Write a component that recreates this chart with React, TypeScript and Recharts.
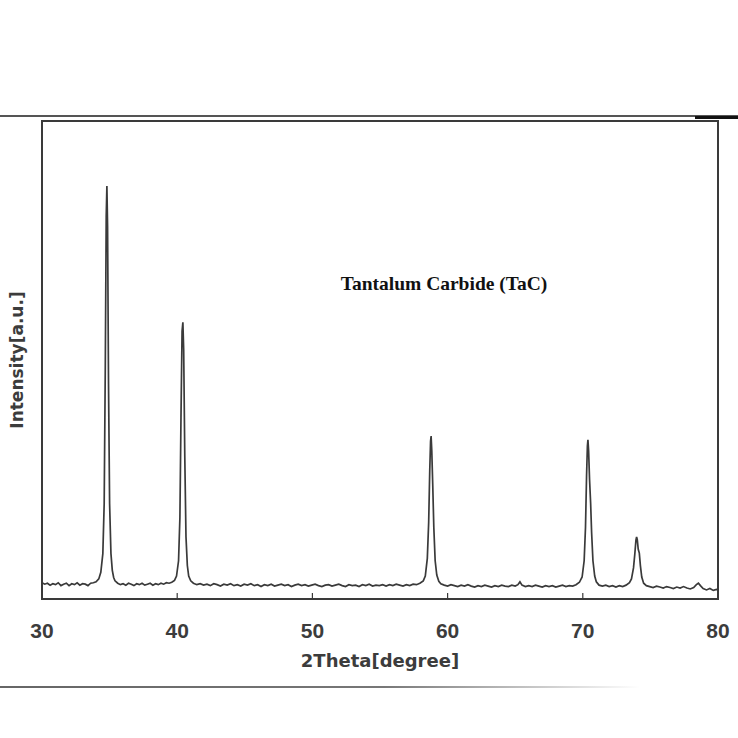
import React from "react"
import { LineChart, Line, XAxis, YAxis, ReferenceArea } from "recharts"

// 2θ (degree), intensity (a.u., 0-100 of the frame height)
const background1: [number, number][] = [
  [30.0, 3.4], [30.2, 3.1], [30.4, 3.3], [30.6, 2.9], [30.8, 3.2], [31.0, 3.0], [31.2, 3.4], [31.4, 2.8],
  [31.6, 3.1], [31.8, 3.3], [32.0, 2.8], [32.2, 3.2], [32.4, 3.0], [32.6, 3.4], [32.8, 2.9], [33.0, 3.2],
  [33.2, 3.1], [33.4, 2.8], [33.6, 3.3], [33.8, 3.4], [34.0, 3.6], [34.2, 4.2],
]
const peak111: [number, number][] = [
  [34.35, 5.6], [34.5, 9.5], [34.6, 20], [34.68, 48], [34.75, 80], [34.8, 86.4], [34.85, 78],
  [34.92, 45], [35.0, 20], [35.1, 9.5], [35.2, 6], [35.3, 4.5], [35.4, 3.8],
]
const background2: [number, number][] = [
  [35.6, 3.3], [35.8, 3.0], [36.0, 3.2], [36.2, 2.9], [36.4, 3.3], [36.6, 3.1], [36.8, 2.8], [37.0, 3.2],
  [37.2, 3.0], [37.4, 3.3], [37.6, 2.9], [37.8, 3.1], [38.0, 3.3], [38.2, 2.9], [38.4, 3.2], [38.6, 3.0],
  [38.8, 3.3], [39.0, 3.1], [39.2, 3.4], [39.4, 3.3], [39.6, 3.5], [39.8, 3.9],
]
const peak200: [number, number][] = [
  [39.95, 4.8], [40.1, 8], [40.2, 17], [40.28, 38], [40.36, 56], [40.42, 57.9], [40.48, 52],
  [40.56, 30], [40.65, 13], [40.75, 7], [40.85, 4.8], [41.0, 3.8],
]
const background3: [number, number][] = [
  [41.2, 3.3], [41.45, 3.0], [41.7, 3.2], [41.95, 2.9], [42.2, 3.1], [42.45, 2.8], [42.7, 3.2], [42.95, 3.0],
  [43.2, 2.7], [43.45, 3.1], [43.7, 2.9], [43.95, 3.2], [44.2, 2.8], [44.45, 3.0], [44.7, 2.7], [44.95, 3.1],
  [45.2, 2.9], [45.45, 3.2], [45.7, 2.8], [45.95, 3.0], [46.2, 2.6], [46.45, 3.0], [46.7, 2.8], [46.95, 3.1],
  [47.2, 2.7], [47.45, 2.9], [47.7, 3.1], [47.95, 2.8], [48.2, 3.0], [48.45, 2.6], [48.7, 2.9], [48.95, 3.1],
  [49.2, 2.8], [49.45, 3.0], [49.7, 2.7], [49.95, 2.9], [50.2, 3.1], [50.45, 2.8], [50.7, 2.6], [50.95, 2.9],
  [51.2, 3.0], [51.45, 2.7], [51.7, 2.9], [51.95, 3.1], [52.2, 2.8], [52.45, 2.6], [52.7, 3.0], [52.95, 2.8],
  [53.2, 2.9], [53.45, 2.6], [53.7, 3.0], [53.95, 2.8], [54.2, 3.1], [54.45, 2.7], [54.7, 2.9], [54.95, 2.8],
  [55.2, 3.0], [55.45, 2.7], [55.7, 3.0], [55.95, 2.8], [56.2, 3.1], [56.45, 2.9], [56.7, 2.7], [56.95, 3.0],
  [57.2, 2.8], [57.45, 3.1], [57.7, 3.0], [57.95, 3.3], [58.2, 3.8],
]
const peak220: [number, number][] = [
  [58.35, 4.8], [58.5, 8.5], [58.6, 16], [58.68, 27], [58.74, 33], [58.78, 34.1], [58.83, 31],
  [58.9, 24], [58.98, 15], [59.08, 8], [59.2, 5], [59.35, 3.7],
]
const background4: [number, number][] = [
  [59.5, 3.2], [59.75, 2.9], [60.0, 2.7], [60.25, 3.0], [60.5, 2.8], [60.75, 2.6], [61.0, 2.9], [61.25, 2.7],
  [61.5, 3.0], [61.75, 2.7], [62.0, 2.5], [62.25, 2.8], [62.5, 2.6], [62.75, 2.9], [63.0, 2.7], [63.25, 2.5],
  [63.5, 2.8], [63.75, 2.6], [64.0, 2.9], [64.25, 2.7], [64.5, 2.6], [64.75, 2.9], [65.0, 2.7], [65.2, 3.0],
  [65.35, 3.6], [65.5, 2.9], [65.75, 2.6], [66.0, 2.8], [66.25, 2.6], [66.5, 2.9], [66.75, 2.7], [67.0, 2.5],
  [67.25, 2.8], [67.5, 2.6], [67.75, 2.8], [68.0, 2.5], [68.25, 2.7], [68.5, 2.9], [68.75, 2.6], [69.0, 2.8],
  [69.25, 2.7], [69.5, 3.0], [69.75, 3.5],
]
const peak311: [number, number][] = [
  [69.95, 4.6], [70.1, 8], [70.2, 15], [70.28, 26], [70.34, 32], [70.38, 33.3], [70.43, 31],
  [70.5, 25], [70.58, 20], [70.65, 14], [70.75, 8], [70.88, 4.8], [71.0, 3.6],
]
const background5: [number, number][] = [
  [71.2, 2.9], [71.45, 2.7], [71.7, 2.9], [71.95, 2.6], [72.2, 2.8], [72.45, 2.5], [72.7, 2.8], [72.95, 2.6],
  [73.2, 2.9], [73.45, 3.4],
]
const peak222: [number, number][] = [
  [73.6, 4.2], [73.75, 6.5], [73.85, 9.5], [73.93, 12.3], [73.98, 13], [74.03, 12.4], [74.1, 10.4],
  [74.18, 9.6], [74.26, 7], [74.36, 4.6], [74.5, 3.3],
]
const background6: [number, number][] = [
  [74.7, 2.8], [74.95, 2.6], [75.2, 2.4], [75.45, 2.7], [75.7, 2.5], [75.95, 2.3], [76.2, 2.6], [76.45, 2.4],
  [76.7, 2.2], [76.95, 2.5], [77.2, 2.3], [77.45, 2.6], [77.7, 2.3], [77.95, 2.1], [78.2, 2.4], [78.4, 3.0],
  [78.55, 3.3], [78.7, 2.8], [78.9, 2.2], [79.15, 1.9], [79.4, 2.2], [79.65, 1.8], [79.9, 2.0], [80.0, 1.9],
]

const xTicks = [30, 40, 50, 60, 70, 80]

const scan = [
  ...background1, ...peak111, ...background2, ...peak200, ...background3, ...peak220,
  ...background4, ...peak311, ...background5, ...peak222, ...background6,
].map(([theta, intensity]) => ({ theta, intensity }))

const ink = "#3a3a3a"
const labelFont = "'DejaVu Sans', Verdana, sans-serif"

const BottomTick = (props: any) => {
  const { x, y, payload } = props
  const inner = payload.value !== 30 && payload.value !== 80
  return (
    <g>
      {inner && <line x1={x} x2={x} y1={y} y2={y - 6} stroke={ink} strokeWidth={1.2} />}
      <text
        x={x}
        y={y + 31}
        textAnchor="middle"
        dominantBaseline="central"
        fill="#3c3c3c"
        fontFamily="'Liberation Sans', Arial, sans-serif"
        fontWeight="bold"
        fontSize={21}
      >
        {payload.value}
      </text>
    </g>
  )
}

export default function App() {
  return (
    <div style={{ position: "absolute", left: 0, top: 0, width: 738, height: 738, background: "#fff" }}>
      {/* scanned page rules */}
      <div style={{ position: "absolute", left: 0, top: 115, width: 738, height: 2, background: "#555" }} />
      <div style={{ position: "absolute", left: 695, top: 116, width: 43, height: 3, background: "#111" }} />
      <div
        style={{
          position: "absolute", left: 0, top: 686, width: 640, height: 2,
          background: "linear-gradient(to right, #666 0%, #777 60%, rgba(160,170,190,0) 100%)",
        }}
      />

      <LineChart width={738} height={738} data={scan} margin={{ top: 121, right: 20, bottom: 99, left: 0 }}>
        <XAxis
          dataKey="theta"
          type="number"
          domain={[30, 80]}
          ticks={xTicks}
          tickLine={false}
          axisLine={false}
          tickSize={0}
          tickMargin={0}
          height={40}
          tick={<BottomTick />}
          label={{
            value: "2Theta[degree]",
            position: "bottom",
            offset: 15,
            fill: "#3c3c3c",
            style: { fontFamily: labelFont, fontWeight: "bold", fontSize: 18 },
          }}
        />
        <YAxis
          type="number"
          domain={[0, 100]}
          width={42}
          tick={false}
          tickLine={false}
          axisLine={false}
          label={{
            value: "Intensity[a.u.]",
            angle: -90,
            position: "insideLeft",
            offset: 17,
            fill: "#3c3c3c",
            style: { textAnchor: "middle", fontFamily: labelFont, fontWeight: "bold", fontSize: 17 },
          }}
        />
        <ReferenceArea x1={30} x2={80} y1={0} y2={100} fill="none" stroke={ink} strokeWidth={2} />
        <Line
          type="linear"
          dataKey="intensity"
          stroke={ink}
          strokeWidth={1.7}
          dot={false}
          isAnimationActive={false}
        />
      </LineChart>

      <div
        style={{
          position: "absolute", left: 444, top: 284, transform: "translate(-50%, -50%)",
          fontFamily: "'Liberation Serif', 'Times New Roman', serif", fontWeight: "bold", fontSize: 19.5,
          color: "#111", whiteSpace: "nowrap",
        }}
      >
        Tantalum Carbide (TaC)
      </div>
    </div>
  )
}
